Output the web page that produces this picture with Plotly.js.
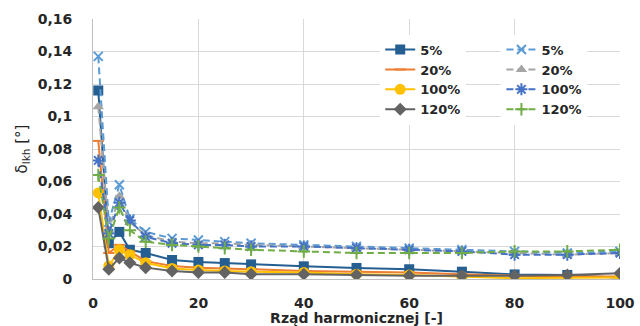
<!DOCTYPE html>
<html><head><meta charset="utf-8">
<script src="https://cdn.plot.ly/plotly-3.0.1.min.js"></script>
<style>html,body{margin:0;padding:0;background:#fff}#c{width:640px;height:326px}</style>
</head><body><div id="c"></div>
<script>
const harmonics = [1,3,5,7,10,15,20,25,30,40,50,60,70,80,90,100];
const solid5   = [0.116,0.022,0.029,0.018,0.016,0.0117,0.0105,0.0098,0.009,0.0078,0.0068,0.006,0.0045,0.0028,0.0025,0.0008];
const solid20  = [0.085,0.016,0.021,0.017,0.011,0.008,0.007,0.0065,0.006,0.005,0.0045,0.004,0.003,0.002,0.0015,0.0015];
const solid100 = [0.053,0.008,0.018,0.015,0.010,0.0065,0.0055,0.005,0.0045,0.004,0.003,0.0025,0.0015,0.0005,0.0008,0.001];
const solid120 = [0.044,0.006,0.013,0.010,0.007,0.005,0.004,0.004,0.003,0.003,0.0025,0.002,0.002,0.002,0.0025,0.0035];
const dash5    = [0.137,0.035,0.058,0.037,0.029,0.025,0.024,0.023,0.022,0.021,0.020,0.019,0.018,0.017,0.016,0.017];
const dash20   = [0.106,0.030,0.051,0.035,0.027,0.023,0.022,0.022,0.021,0.020,0.019,0.018,0.017,0.016,0.015,0.016];
const dash100  = [0.073,0.028,0.047,0.036,0.026,0.022,0.021,0.021,0.020,0.020,0.019,0.018,0.017,0.015,0.015,0.016];
const dash120  = [0.064,0.025,0.044,0.030,0.023,0.021,0.020,0.019,0.018,0.017,0.016,0.016,0.016,0.017,0.017,0.018];
const names = ['5%','20%','100%','120%'];

function tr(y, name, color, symbol, size, dash, legend){
  const thin = /open|thin|asterisk/.test(symbol);
  return {x: harmonics, y: y, name: name, type:'scatter', mode:'lines+markers',
    line:{color:color, width:2, dash:dash},
    marker:{symbol:symbol, size:size, color:color, line:{color:color, width: thin ? 2 : 0}},
    legend: legend};
}
const DASH = '7px,4px';
const data = [
  tr(solid5, names[0], '#255e91', 'square', 10, 'solid', 'legend'),
  tr(solid20, names[1], '#ed7d31', 'line-ew-open', 8, 'solid', 'legend'),
  tr(solid100, names[2], '#ffc000', 'circle', 11, 'solid', 'legend'),
  tr(solid120, names[3], '#636363', 'diamond', 10, 'solid', 'legend'),
  tr(dash5, names[0], '#5b9bd5', 'x-thin-open', 9, DASH, 'legend2'),
  tr(dash20, names[1], '#a5a5a5', 'triangle-up', 10, DASH, 'legend2'),
  tr(dash100, names[2], '#4472c4', 'asterisk-open', 10, DASH, 'legend2'),
  tr(dash120, names[3], '#70ad47', 'cross-thin-open', 9, DASH, 'legend2')
];
const FF = 'DejaVu Sans, sans-serif';
const tickFont = {family:FF, size:14, color:'#262626', weight:'bold'};
const legFont = {family:FF, size:13, color:'#262626', weight:'bold'};
const layout = {
  width:640, height:326,
  margin:{l:93, r:20, t:19, b:47},
  separators:', ',
  paper_bgcolor:'#fff', plot_bgcolor:'#fff',
  showlegend:true,
  xaxis:{range:[0,100], dtick:20, tick0:0, showgrid:true, gridcolor:'#d9d9d9', gridwidth:1,
    zeroline:false, showline:true, linecolor:'#bfbfbf', linewidth:1, ticks:'', tickfont:tickFont, ticklabelstandoff:11,
    title:{text:'Rząd harmonicznej [-]', font:{family:FF, size:14, color:'#262626', weight:'bold'}, standoff:9}},
  yaxis:{range:[0,0.16], dtick:0.02, tick0:0, tickformat:'.2~f', showgrid:true, gridcolor:'#d9d9d9', gridwidth:1,
    zeroline:false, showline:true, linecolor:'#bfbfbf', linewidth:1, ticks:'', tickfont:tickFont, ticklabelstandoff:17,
    title:{text:'δ<sub>lkh</sub> [°]', font:{family:FF, size:15, color:'#262626'}, standoff:6}},
  legend:{x:0.545, y:0.94, xanchor:'left', yanchor:'top', bgcolor:'#fff', font:legFont, tracegroupgap:0, itemwidth:30},
  legend2:{x:0.775, y:0.94, xanchor:'left', yanchor:'top', bgcolor:'#fff', font:legFont, tracegroupgap:0, itemwidth:30}
};
Plotly.newPlot('c', data, layout, {displayModeBar:false, staticPlot:true});
</script></body></html>
